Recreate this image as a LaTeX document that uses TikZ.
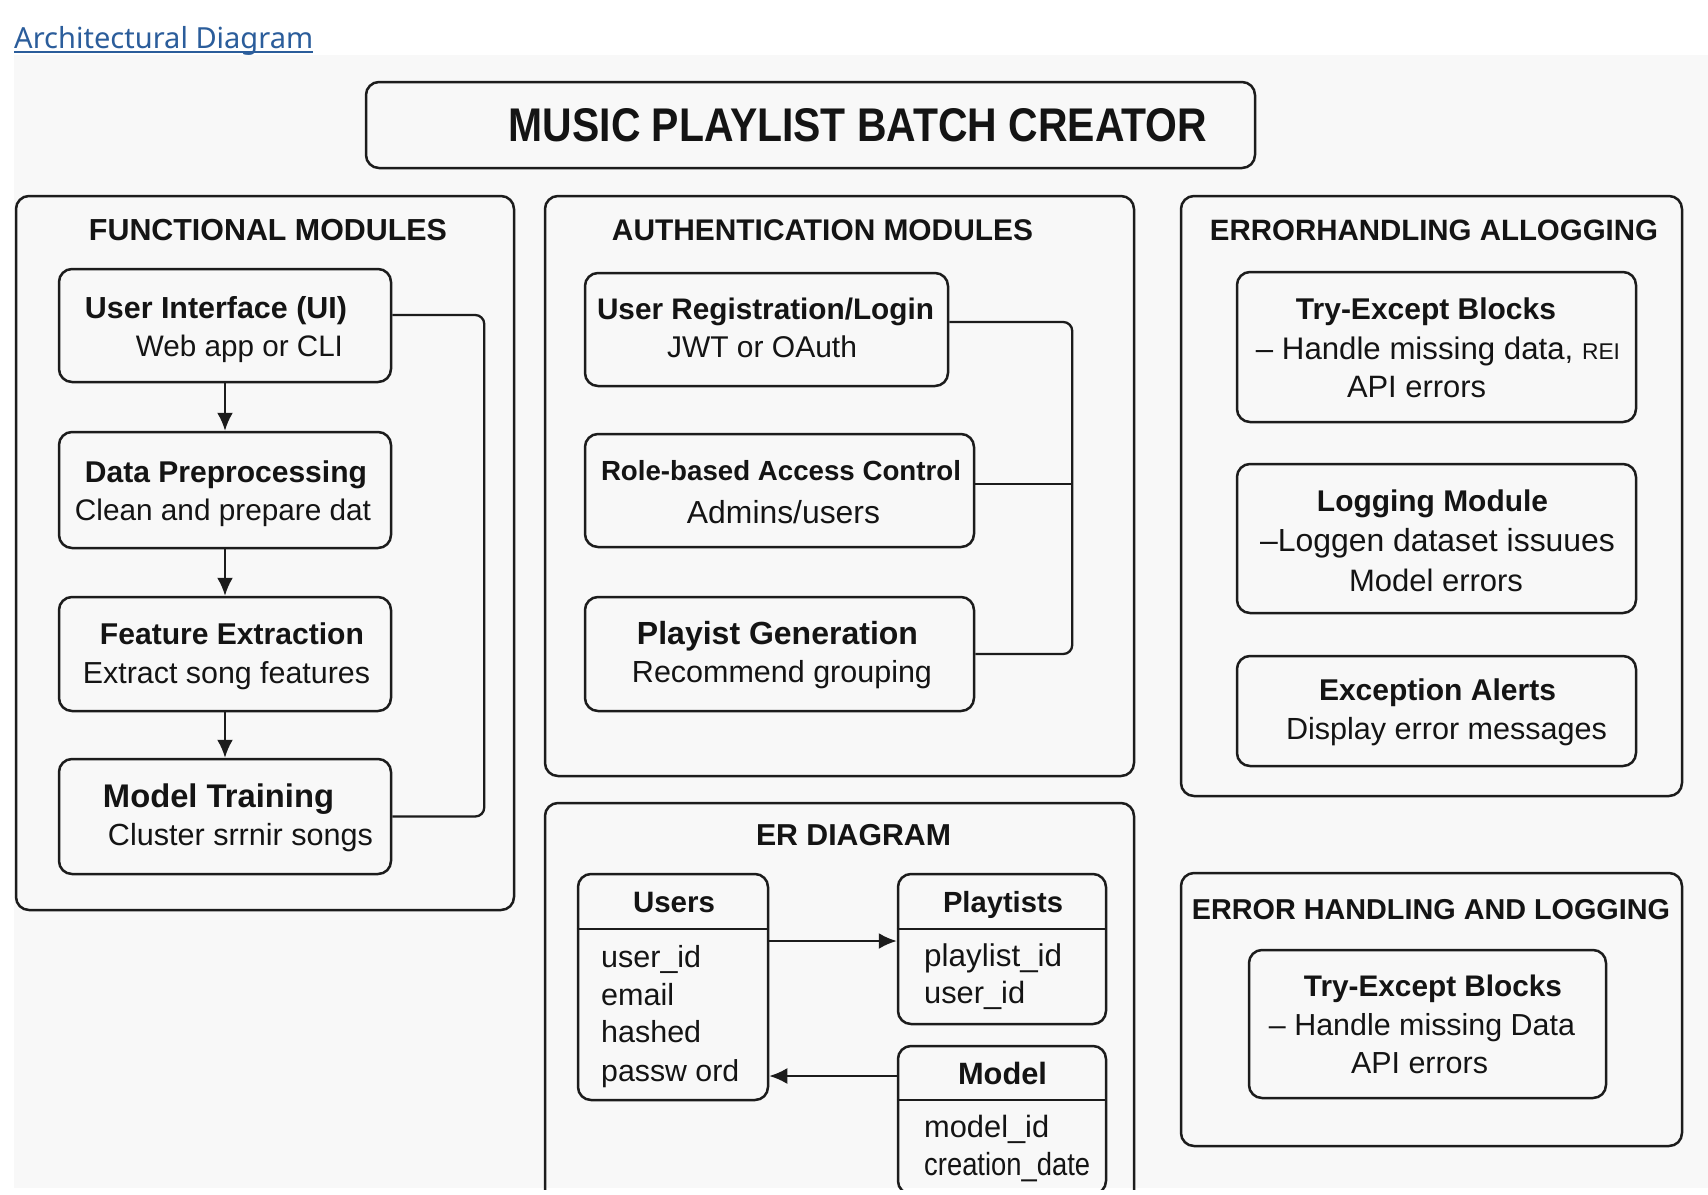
\documentclass[tikz,border=0pt]{standalone}
\usepackage{fontspec}
\setmainfont{Liberation Sans}
\newfontfamily\linkfont{Noto Sans}
\usetikzlibrary{arrows.meta}
\definecolor{panel}{HTML}{F8F8F8}
\definecolor{ink}{HTML}{1C1C1C}
\definecolor{txtc}{HTML}{141414}
\definecolor{linkblue}{HTML}{2B5D9B}
\newcommand{\fitw}[2]{\resizebox{#1pt}{!}{\vphantom{A}\smash{#2}}}
\newcommand{\fitwh}[3]{\resizebox{#1pt}{#2pt}{\vphantom{A}\smash{#3}}}
\newcommand{\mkbox}[6][box]{\node[#1, minimum width={#5-#3}, minimum height={#6-#4}] (#2) at ({(#3+#5)/2},{(#4+#6)/2}) {};}
\begin{document}
\begin{tikzpicture}[x=1pt,y=-1pt,line join=round,
  box/.style={draw=ink, line width=2.5pt, rounded corners=13pt, inner sep=0pt},
  txt/.style={inner sep=0pt, text=txtc},
  conn/.style={draw=ink, line width=2.3pt, rounded corners=9pt},
  arr/.style={draw=ink, line width=2.3pt, -{Latex[length=18pt,width=16pt]}},
  fld/.style={inner sep=0pt, text=txtc, anchor=west},
  div/.style={draw=ink, line width=2.3pt}]

\useasboundingbox (0,0) rectangle (1708,1194);
\fill[white] (0,0) rectangle (1708,1194);
\fill[panel] (14,55) rectangle (1708,1188);

% link
\node[inner sep=0pt, text=linkblue, anchor=base west] (link) at (14,48) {\resizebox{299pt}{!}{\linkfont Architectural Diagram}};
\draw[linkblue, line width=1.8pt] ([yshift=-4pt]link.base west) -- ([yshift=-4pt]link.base east);

% title
\mkbox{titlebox}{366}{82}{1255}{168}
\node[txt] (titletext) at (858,125) {\resizebox{698pt}{33pt}{\bfseries MUSIC PLAYLIST BATCH CREATOR}};

% ---------------- functional modules
\mkbox{func}{16}{196}{514}{910}
\node[txt] (funch) at (268,230) {\fitw{358}{\bfseries FUNCTIONAL MODULES}};
\mkbox{ui}{59}{269}{391}{382}
\mkbox{dp}{59}{432}{391}{548}
\mkbox{fe}{59}{597}{391}{711}
\mkbox{mt}{59}{759}{391}{874}
\node[txt] (ui1) at (216,308) {\fitw{262}{\bfseries User Interface (UI)}};
\node[txt] (ui2) at (239.5,346) {\fitw{207}{Web app or CLI}};
\node[txt] (dp1) at (226,472) {\fitw{282}{\bfseries Data Preprocessing}};
\node[txt] (dp2) at (223,510) {\fitw{296}{Clean and prepare dat}};
\node[txt] (fe1) at (232,634) {\fitw{264}{\bfseries Feature Extraction}};
\node[txt] (fe2) at (226.5,673) {\fitw{287}{Extract song features}};
\node[txt] (mt1) at (218.5,796) {\fitw{231}{\bfseries Model Training}};
\node[txt] (mt2) at (240.5,835) {\fitw{265}{Cluster srrnir songs}};
\draw[arr] (ui.south) -- (dp.north);
\draw[arr] (dp.south) -- (fe.north);
\draw[arr] (fe.south) -- (mt.north);
\draw[conn] ([yshift=10.5pt]ui.east) -- ++(92,0) |- (mt.east);

% ---------------- authentication modules
\mkbox{auth}{545}{196}{1134}{776}
\node[txt] (authh) at (822.5,230) {\fitw{421}{\bfseries AUTHENTICATION MODULES}};
\mkbox{ur}{585}{273}{948}{386}
\mkbox{rbac}{585}{434}{974}{547}
\mkbox{pg}{585}{597}{974}{711}
\node[txt] (ur1) at (765.5,309) {\fitw{337}{\bfseries User Registration/Login}};
\node[txt] (ur2) at (762,347) {\fitw{190}{JWT or OAuth}};
\node[txt] (rb1) at (781,471) {\fitw{360}{\bfseries Role-based Access Control}};
\node[txt] (rb2) at (783.5,513) {\fitw{193}{Admins/users}};
\node[txt] (pg1) at (777.5,633) {\fitw{281}{\bfseries Playist Generation}};
\node[txt] (pg2) at (782,672) {\fitw{300}{Recommend grouping}};
\coordinate (authbus) at (1071,484);
\draw[conn] ([yshift=7.5pt]ur.east) -- ++(123,0) |- (pg.east);
\draw[conn] ([yshift=6.5pt]rbac.east) -- (authbus);

% ---------------- error handling (top)
\mkbox{err}{1181}{196}{1682}{796}
\node[txt] (errh) at (1434,230) {\fitw{448}{\bfseries ERRORHANDLING ALLOGGING}};
\mkbox{te}{1237}{272}{1636}{422}
\mkbox{lm}{1237}{464}{1636}{613}
\mkbox{ea}{1237}{656}{1636}{766}
\node[txt] (te1) at (1426,309) {\fitw{260}{\bfseries Try-Except Blocks}};
\node[txt] (te2) at (1438,349) {\fitw{364}{– Handle missing data, {\fontsize{7.3}{8}\selectfont REI}}};
\node[txt] (te3) at (1416.5,387) {\fitw{139}{API errors}};
\node[txt] (lm1) at (1432.5,501) {\fitw{231}{\bfseries Logging Module}};
\node[txt] (lm2) at (1437.5,541) {\fitw{355}{–Loggen dataset issuues}};
\node[txt] (lm3) at (1436,581) {\fitw{174}{Model errors}};
\node[txt] (ea1) at (1437.5,690) {\fitw{237}{\bfseries Exception Alerts}};
\node[txt] (ea2) at (1446.5,729) {\fitw{321}{Display error messages}};

% ---------------- error handling (bottom)
\mkbox{errb}{1181}{873}{1682}{1146}
\node[txt] (errbh) at (1431,910) {\fitw{478}{\bfseries ERROR HANDLING AND LOGGING}};
\mkbox{teb}{1249}{950}{1606}{1098}
\node[txt] (teb1) at (1433,986) {\fitw{258}{\bfseries Try-Except Blocks}};
\node[txt] (teb2) at (1422,1025) {\fitw{306}{– Handle missing Data}};
\node[txt] (teb3) at (1419.5,1063) {\fitw{137}{API errors}};

% ---------------- ER diagram
\begin{scope}
\clip (0,0) rectangle (1708,1189);
\mkbox{er}{545}{803}{1134}{1240}
\node[txt] (erh) at (853.5,835) {\fitw{195}{\bfseries ER DIAGRAM}};
\mkbox{users}{578}{874}{768}{1100}
\mkbox{pl}{898}{874}{1106}{1024}
\mkbox{model}{898}{1046}{1106}{1194}
\draw[div] ([yshift=58pt]users.west) -- ([yshift=58pt]users.east);
\draw[div] ([yshift=20pt]pl.west) -- ([yshift=20pt]pl.east);
\draw[div] ([yshift=20pt]model.west) -- ([yshift=20pt]model.east);
\node[txt] (usersh) at (674,902) {\fitw{82}{\bfseries Users}};
\node[txt] (plh) at (1003,902) {\fitw{120}{\bfseries Playtists}};
\node[txt] (modelh) at (1002.5,1074) {\fitw{89}{\bfseries Model}};
\node[fld] (u1) at (601,957) {\fitw{100}{user\_id}};
\node[fld] (u2) at (601,995) {\fitw{73}{email}};
\node[fld] (u3) at (601,1032) {\fitw{100}{hashed}};
\node[fld] (u4) at (601,1071) {\fitw{138}{passw ord}};
\node[fld] (p1) at (924,956) {\fitw{138}{playlist\_id}};
\node[fld] (p2) at (924,993) {\fitw{101}{user\_id}};
\node[fld] (m1) at (924,1127) {\fitw{125}{model\_id}};
\node[fld] (m2) at (924,1164) {\fitwh{166}{22}{creation\_date}};
\draw[arr] ([yshift=46pt]users.east) -- ([yshift=46pt]users.east -| pl.west);
\draw[arr] ([yshift=44pt]model.west) -- ([yshift=44pt]model.west -| users.east);
\end{scope}
\end{tikzpicture}
\end{document}
